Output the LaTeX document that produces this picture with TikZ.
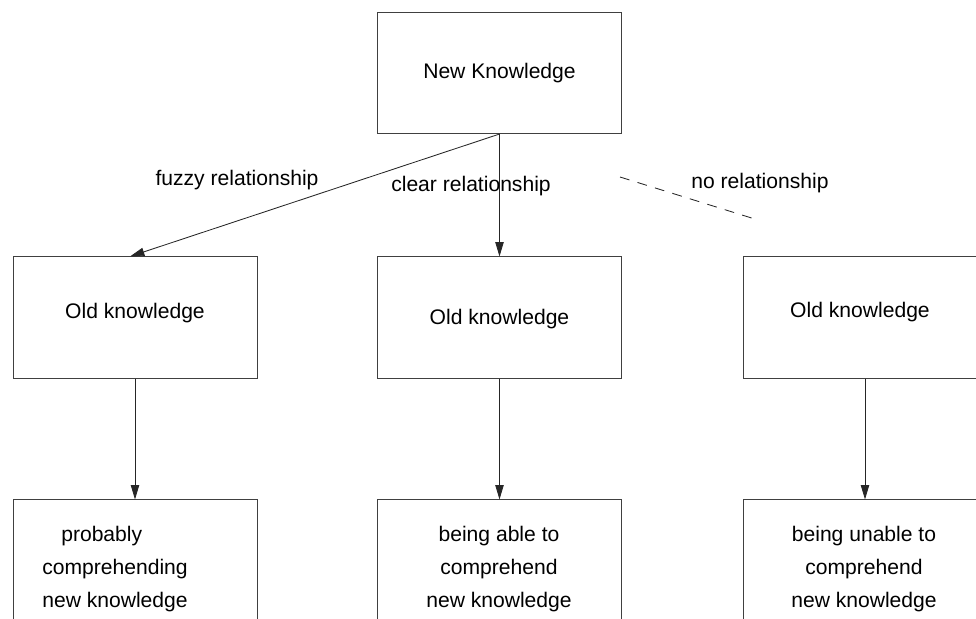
\documentclass[tikz,border=0pt]{standalone}
\usepackage{fontspec}
\setmainfont{Liberation Sans}
\usetikzlibrary{arrows.meta}
\tikzset{
  box/.style={draw=black!75, line width=0.6pt, minimum width=6.1cm, minimum height=3.03cm, inner sep=0pt},
  link/.style={draw=black!85, line width=0.6pt, -{Stealth[length=3.6mm, width=2.1mm, inset=0pt]}},
  lbl/.style={inner sep=0pt}
}
\begin{document}
\begin{tikzpicture}[x=0.025cm, y=-0.025cm, font={\fontsize{15}{23.5}\selectfont}]
    \useasboundingbox (0,0) rectangle (976,619);
    \clip (0,0) rectangle (976,619);
    % Top box
    \node[box] (new) at (499.5,73) {New Knowledge};
    % Old knowledge boxes
    \node[box] (oldA) at (135,317.5) {};
    \node[lbl] (oldAtxt) at (135,313) {Old knowledge};
    \node[box] (oldB) at (499.5,317.5) {};
    \node[lbl] (oldBtxt) at (499.5,319) {Old knowledge};
    \node[box] (oldC) at (865,317.5) {};
    \node[lbl] (oldCtxt) at (860,312) {Old knowledge};
    % Result boxes (cut by the bottom edge)
    \node[box] (resA) at (135,560.5) {};
    \node[lbl, align=left] (resAtxt) at (115,569) {\hspace*{0.9em}probably\\comprehending\\new knowledge};
    \node[box] (resB) at (499.5,560.5) {};
    \node[lbl, align=center] (resBtxt) at (499,569) {being able to\\comprehend\\new knowledge};
    \node[box] (resC) at (865,560.5) {};
    \node[lbl, align=center] (resCtxt) at (864,569) {being unable to\\comprehend\\new knowledge};
    % Relationships
    \draw[link] (new.south) -- ([xshift=-0.125cm]oldA.north);
    \draw[link] (new.south) -- (oldB.north);
    \coordinate (noA) at (620,177);
    \coordinate (noB) at (758,220);
    \draw[black!85, line width=0.6pt, dash pattern={on 7pt off 6pt}] (noA) -- (noB);
    \node[lbl] (fuzzy) at (237,180) {fuzzy relationship};
    \node[lbl] (clear) at (471,186) {clear relationship};
    \node[lbl] (none) at (760,183) {no relationship};
    % Down arrows
    \draw[link] (oldA.south) -- (resA.north);
    \draw[link] (oldB.south) -- (resB.north);
    \draw[link] (oldC.south) -- (resC.north);
\end{tikzpicture}
\end{document}
